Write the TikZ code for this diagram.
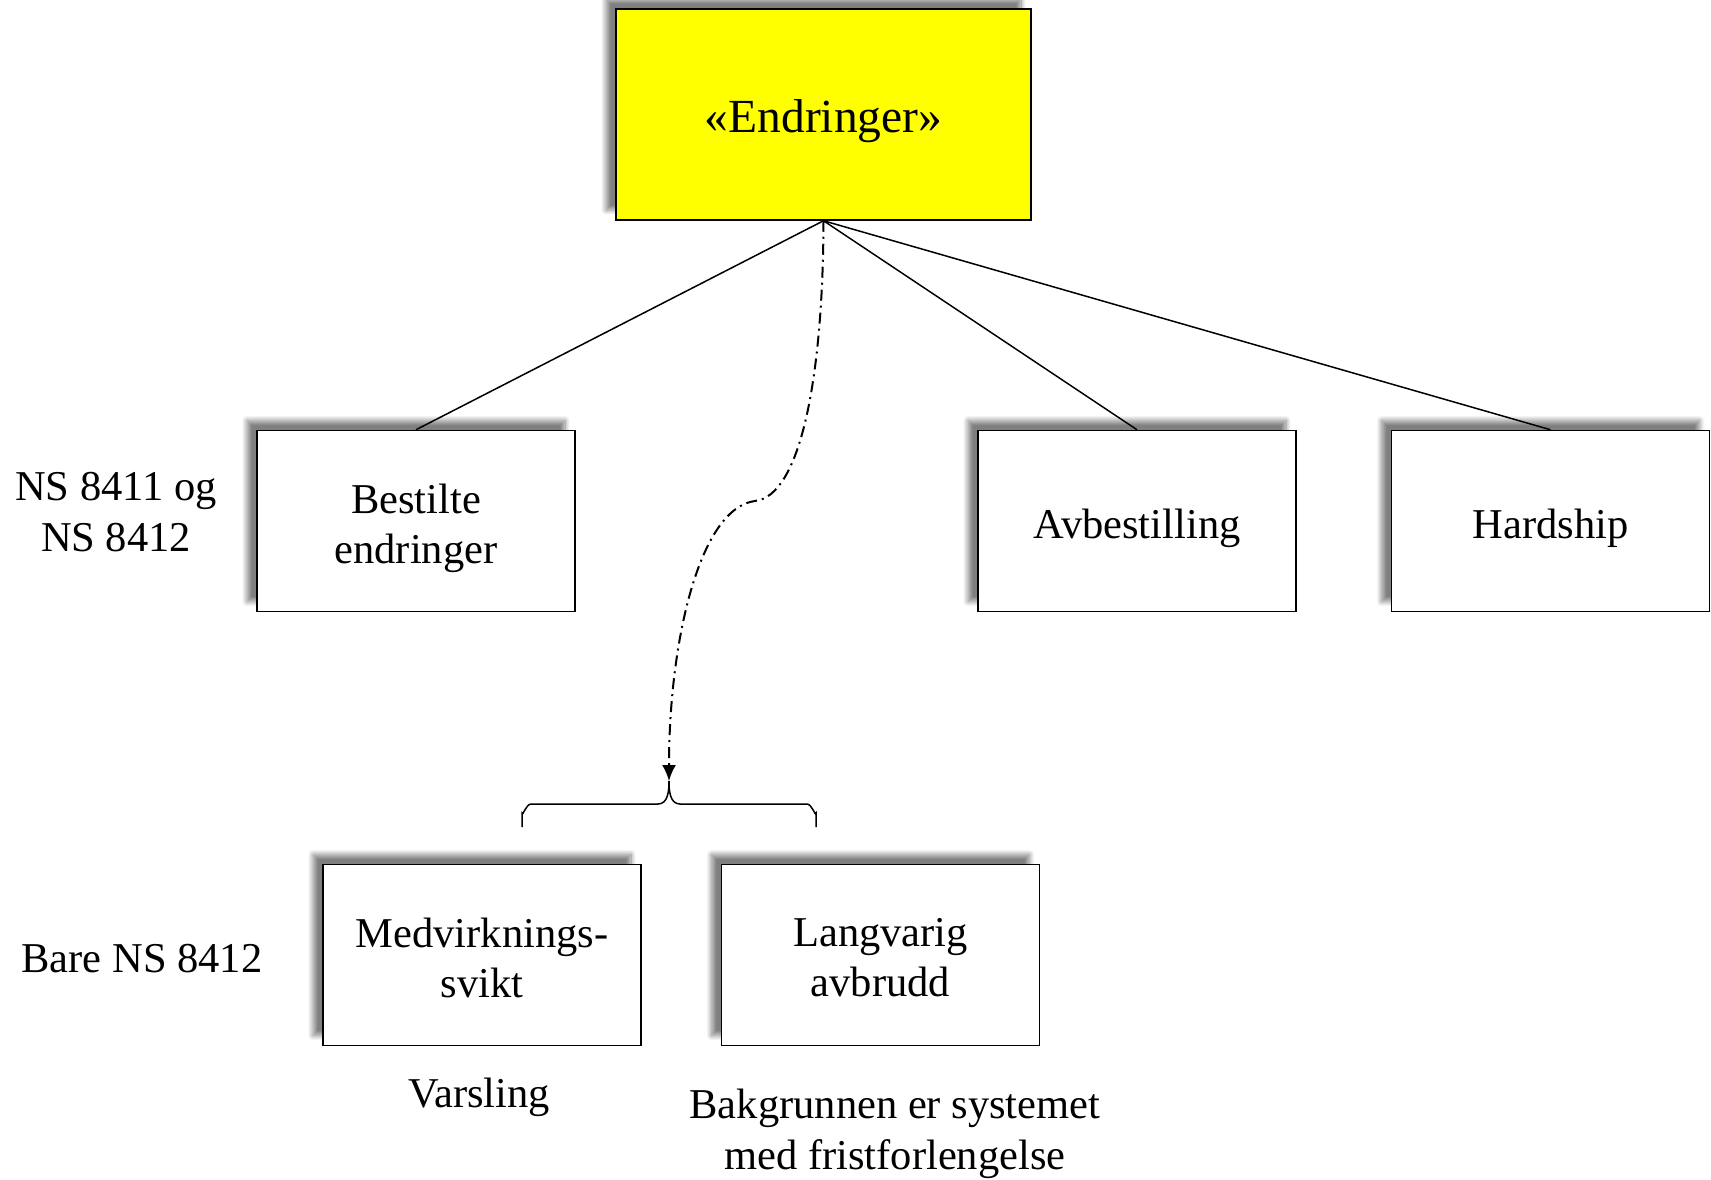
\documentclass[tikz,border=0pt]{standalone}
\usepackage{fontspec}
\setmainfont{Liberation Serif}
\usetikzlibrary{shadows.blur,arrows.meta}
\definecolor{yel}{RGB}{255,255,0}
\begin{document}
\begin{tikzpicture}[x=1pt,y=-1pt,
  box/.style={draw=black,line width=1.5pt,fill=white,minimum width=318pt,minimum height=181pt,
    inner sep=0pt,
    blur shadow={shadow xshift=-10pt,shadow yshift=10pt,shadow blur radius=5pt,shadow blur steps=10,shadow opacity=50}},
  txt/.style={align=center,font=\fontsize{42.5}{50}\selectfont,inner sep=0pt},
  lbl/.style={align=center,font=\fontsize{42.5}{51}\selectfont,inner sep=0pt},
  conn/.style={line width=1.5pt}]
\useasboundingbox (0,0) rectangle (1711,1180);
\node[box,fill=yel,minimum width=415pt,minimum height=211pt] (top) at (823.5,114.5) {};
\node[txt,font=\fontsize{47.5}{55}\selectfont] (topt) at ([yshift=-7pt]top.center) {«Endringer»};
\node[box] (best) at (416,521) {};
\node[txt] (bestt) at ([yshift=-7pt]best.center) {Bestilte\\endringer};
\node[box] (avb) at (1137,521) {};
\node[txt] (avbt) at ([yshift=-7pt]avb.center) {Avbestilling};
\node[box] (hard) at (1550.5,521) {};
\node[txt] (hardt) at ([yshift=-7pt]hard.center) {Hardship};
\node[box] (med) at (482,955) {};
\node[txt] (medt) at ([yshift=-3pt]med.center) {Medvirknings-\\svikt};
\node[box] (lang) at (880.5,955) {};
\node[txt] (langt) at ([yshift=-3pt]lang.center) {Langvarig\\avbrudd};
\node[lbl] (l1) at (116,512) {NS 8411 og\\NS 8412};
\node[lbl] (l2) at (142,959) {Bare NS 8412};
\node[lbl] (l3) at (479,1097) {Varsling};
\node[lbl] (l4) at (895,1134) {Bakgrunnen er systemet\\med fristforlengelse};
\draw[conn] (top.south) -- (best.north);
\draw[conn] (top.south) -- (avb.north);
\draw[conn] (top.south) -- (hard.north);
\coordinate (bt) at (669,781);
\draw[line width=1.5pt] (522,827) -- (522,813) to[out=-90,in=180] (531,804) -- (658,804) to[out=0,in=-90] (bt)
  to[out=-90,in=180] (680,804) -- (807,804) to[out=0,in=-90] (816,813) -- (816,827);
\draw[line width=2pt,dash pattern=on 11pt off 5pt on 2pt off 5pt,-{Latex[length=16pt,width=14pt]}]
  (top.south) .. controls (823,380) and (800,496) .. (755,501) .. controls (700,508) and (669,640) .. (bt);
\end{tikzpicture}
\end{document}
